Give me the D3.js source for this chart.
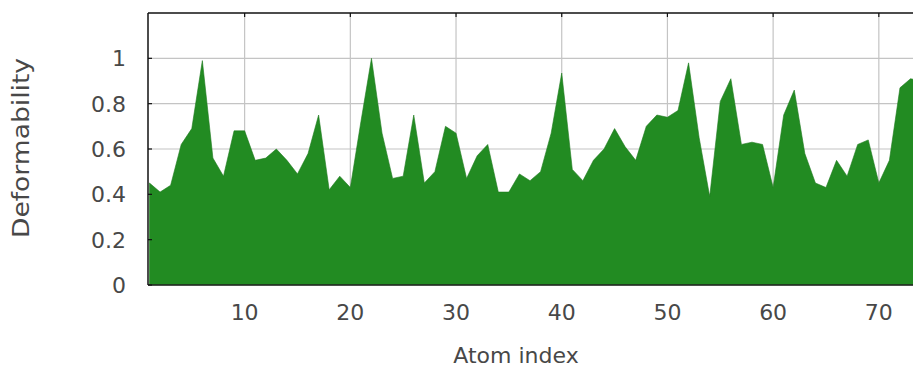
<!doctype html>
<html>
<head>
<meta charset="utf-8">
<title>Deformability</title>
<style>
  body { margin: 0; background: #fff; overflow: hidden; }
  text { font-family: "DejaVu Sans", sans-serif; fill: #484848; }
</style>
</head>
<body>
<div id="chart"></div>
<script src="https://d3js.org/d3.v7.min.js"></script>
<script>
// deformability per atom
var atomIndex = d3.range(1, 75);
var deform = [0.45, 0.41, 0.44, 0.62, 0.69, 0.99, 0.56, 0.48, 0.68, 0.68,
              0.55, 0.56, 0.60, 0.55, 0.49, 0.58, 0.75, 0.42, 0.48, 0.43,
              0.72, 1.00, 0.67, 0.47, 0.48, 0.75, 0.45, 0.50, 0.70, 0.67,
              0.47, 0.57, 0.62, 0.41, 0.41, 0.49, 0.46, 0.50, 0.67, 0.935,
              0.51, 0.46, 0.55, 0.60, 0.69, 0.61, 0.55, 0.70, 0.75, 0.74,
              0.77, 0.98, 0.65, 0.39, 0.81, 0.91, 0.62, 0.63, 0.62, 0.43,
              0.75, 0.86, 0.58, 0.45, 0.43, 0.55, 0.48, 0.62, 0.64, 0.45,
              0.55, 0.87, 0.91, 0.90];
var xTicks = [10, 20, 30, 40, 50, 60, 70];
var yTicks = [0, 0.2, 0.4, 0.6, 0.8, 1];

var W = 913, H = 370;
var pLeft = 148, pTop = 13, pBottom = 285;

var x = d3.scaleLinear().domain([1, 74]).range([pLeft + 1.5, pLeft + 1.5 + 73 * 10.57]);
var y = d3.scaleLinear().domain([0, 1.2]).range([pBottom, pTop]);

var svg = d3.select("#chart").append("svg").attr("width", W).attr("height", H);

// grid
svg.append("g").selectAll("line").data(xTicks).enter().append("line")
  .attr("x1", d => x(d)).attr("x2", d => x(d))
  .attr("y1", pTop).attr("y2", pBottom)
  .attr("stroke", "#c4c4c4").attr("stroke-width", 1.2);
svg.append("g").selectAll("line").data(yTicks.filter(d => d > 0)).enter().append("line")
  .attr("x1", pLeft).attr("x2", W)
  .attr("y1", d => y(d)).attr("y2", d => y(d))
  .attr("stroke", "#c4c4c4").attr("stroke-width", 1.2);

// area
var area = d3.area()
  .x((d, i) => x(atomIndex[i]))
  .y0(y(0))
  .y1(d => y(d));
svg.append("path").datum(deform)
  .attr("d", area)
  .attr("fill", "#228b22")
  .attr("stroke", "#1f7a1f").attr("stroke-width", 0.6);

// frame
svg.append("line").attr("x1", pLeft).attr("x2", W).attr("y1", pTop).attr("y2", pTop)
  .attr("stroke", "#111").attr("stroke-width", 1.5);
svg.append("line").attr("x1", pLeft).attr("x2", W).attr("y1", pBottom).attr("y2", pBottom)
  .attr("stroke", "#222").attr("stroke-width", 1.5);
svg.append("line").attr("x1", pLeft).attr("x2", pLeft).attr("y1", pTop).attr("y2", pBottom)
  .attr("stroke", "#111").attr("stroke-width", 1.5);

// small ticks on the top and left borders
svg.append("g").selectAll("line").data(xTicks).enter().append("line")
  .attr("x1", d => x(d)).attr("x2", d => x(d))
  .attr("y1", pTop).attr("y2", pTop + 4)
  .attr("stroke", "#111").attr("stroke-width", 1.2);
svg.append("g").selectAll("line").data(yTicks).enter().append("line")
  .attr("x1", pLeft).attr("x2", pLeft + 4)
  .attr("y1", d => y(d)).attr("y2", d => y(d))
  .attr("stroke", "#111").attr("stroke-width", 1.2);

// tick labels
svg.append("g").selectAll("text").data(xTicks).enter().append("text")
  .attr("x", d => x(d)).attr("y", 320)
  .attr("text-anchor", "middle")
  .style("font-size", "22px")
  .text(d => d);
svg.append("g").selectAll("text").data(yTicks).enter().append("text")
  .attr("x", 126).attr("y", d => y(d) + 8)
  .attr("text-anchor", "end")
  .style("font-size", "22px")
  .text(d => d);

// axis titles
svg.append("text").attr("x", 516).attr("y", 363)
  .attr("text-anchor", "middle").style("font-size", "22px")
  .text("Atom index");
svg.append("text")
  .attr("transform", "translate(29,148) rotate(-90)")
  .attr("text-anchor", "middle").style("font-size", "23px")
  .attr("textLength", 180).attr("lengthAdjust", "spacingAndGlyphs")
  .text("Deformability");
</script>
</body>
</html>
